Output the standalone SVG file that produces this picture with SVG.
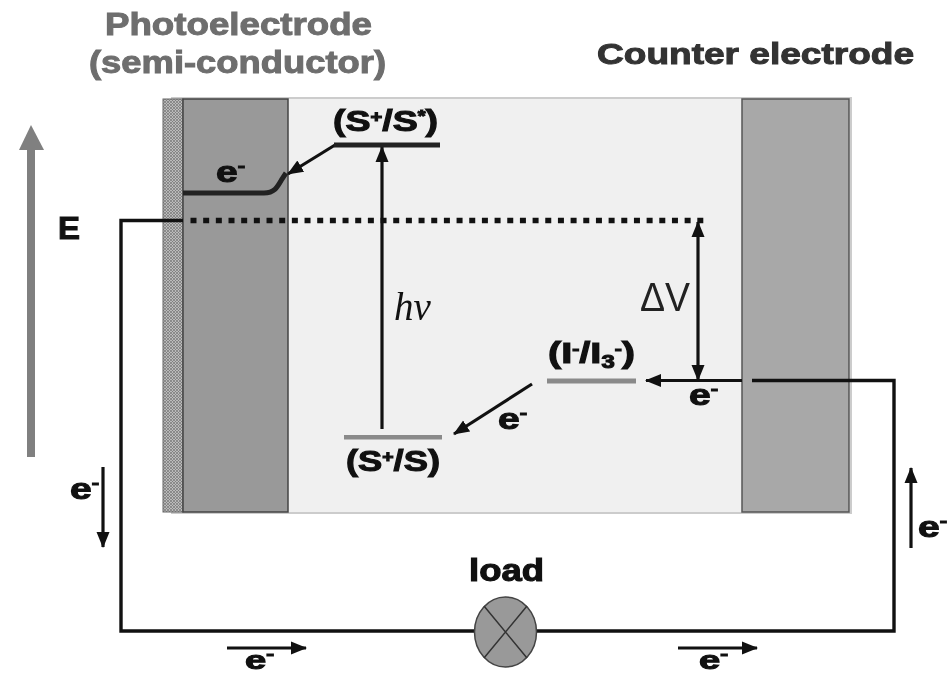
<svg xmlns="http://www.w3.org/2000/svg" width="950" height="674" viewBox="0 0 950 674">
<style>
text{font-family:"Liberation Sans",Arial,sans-serif;font-weight:700;fill:#111}
.t{stroke:#111;stroke-width:1.100}
.g{fill:#6e6e6e;stroke:#6e6e6e;stroke-width:1}
.c{fill:#333;stroke:#333;stroke-width:1}
.w{fill:none;stroke:#111;stroke-width:3.400}
.a{fill:none;stroke:#111;stroke-width:3.200}
svg>g{filter:url(#b)}
</style>
<defs>
<filter id="b" x="-5%" y="-5%" width="110%" height="110%" filterUnits="objectBoundingBox" color-interpolation-filters="sRGB"><feGaussianBlur stdDeviation="0.5"/></filter>
<pattern id="h" width="3" height="3" patternUnits="userSpaceOnUse"><rect width="3" height="3" fill="#bbb"/><path d="M0 0L3 3M3 0L0 3" stroke="#777" stroke-width=".7"/></pattern>
<marker id="m" markerUnits="userSpaceOnUse" markerWidth="16" markerHeight="16" refX="15" refY="8" orient="auto-start-reverse"><path d="M0 1.500L16 8L0 14.500z" fill="#111"/></marker>
</defs>
<g id="electrolyte"><rect x="172" y="98" width="679" height="415" fill="#f0f0f0" stroke="#ccc" stroke-width="2"/></g>
<g id="photoelectrode">
<rect x="163" y="99" width="20" height="413" fill="url(#h)" stroke="#666"/>
<rect x="183" y="99" width="105" height="413" fill="#999" stroke="#444" stroke-width="1.500"/>
</g>
<g id="counter-electrode"><rect x="742" y="99" width="107" height="413" fill="#a8a8a8" stroke="#555" stroke-width="1.500"/></g>
<g id="energy-axis">
<path d="M31 457V150" stroke="#808080" stroke-width="8" fill="none"/>
<path d="M19 150L31 125L44 150z" fill="#808080"/>
<text x="58" y="239" font-size="32" textLength="22" lengthAdjust="spacingAndGlyphs" class="t">E</text>
</g>
<g id="connectors">
<path class="w" d="M183 220.500H121V631H894V380.500H752"/>
<path d="M190.500 220.500H706" fill="none" stroke="#111" stroke-width="5.500" stroke-dasharray="6 6.670"/>
<path d="M183 193H264C274 193 277 188 282 179L286 173" fill="none" stroke="#222" stroke-width="5"/>
<path class="a" d="M335 145L288 174" marker-end="url(#m)"/>
<path class="a" d="M382 429V147" marker-end="url(#m)"/>
<path class="a" d="M698 380V222" marker-start="url(#m)" marker-end="url(#m)"/>
<path class="a" d="M742 380.500H646" marker-end="url(#m)"/>
<path class="a" d="M532 384L454 434" marker-end="url(#m)"/>
<path class="a" d="M103 467V547" marker-end="url(#m)"/>
<path class="a" d="M911 548V468" marker-end="url(#m)"/>
<path class="a" d="M227 648H306" marker-end="url(#m)"/>
<path class="a" d="M678 648H757" marker-end="url(#m)"/>
</g>
<g id="level-s-excited"><path d="M334 145H440" stroke="#222" stroke-width="5"/>
<text x="333" y="131" font-size="30" textLength="105" lengthAdjust="spacingAndGlyphs" class="t">(S<tspan dy="-9" font-size="16">+</tspan><tspan dy="9">/S</tspan><tspan dy="-9" font-size="16">*</tspan><tspan dy="9">)</tspan></text></g>
<g id="level-s-ground"><path d="M344 437H442" stroke="#8a8a8a" stroke-width="5"/>
<text x="346" y="471" font-size="30" textLength="94" lengthAdjust="spacingAndGlyphs" class="t">(S<tspan dy="-9" font-size="16">+</tspan><tspan dy="9">/S)</tspan></text></g>
<g id="level-redox"><path d="M547 381H636" stroke="#8a8a8a" stroke-width="5"/>
<text x="548" y="363" font-size="30" textLength="87" lengthAdjust="spacingAndGlyphs" class="t">(I<tspan dy="-9" font-size="16">-</tspan><tspan dy="9">/I</tspan><tspan dy="5" font-size="18">3</tspan><tspan dy="-14" font-size="16">-</tspan><tspan dy="9">)</tspan></text></g>
<g id="load">
<ellipse cx="505.500" cy="632" rx="31" ry="35" fill="#999" stroke="#444" stroke-width="1.500"/>
<path d="M484 606L527 658M527 606L484 658" stroke="#333" stroke-width="1.500"/>
<text x="469" y="581" font-size="31" textLength="75" lengthAdjust="spacingAndGlyphs" class="t">load</text>
</g>
<g id="labels">
<text x="105" y="35" font-size="31" textLength="267" lengthAdjust="spacingAndGlyphs" class="g">Photoelectrode</text>
<text x="89" y="73" font-size="31" textLength="297" lengthAdjust="spacingAndGlyphs" class="g">(semi-conductor)</text>
<text x="597" y="64" font-size="30" textLength="317" lengthAdjust="spacingAndGlyphs" class="c">Counter electrode</text>
<text x="394" y="320" font-size="39" style="font-family:'Liberation Serif',serif;font-style:italic;font-weight:400">hν</text>
<text x="640" y="311" font-size="40" style="font-weight:400;fill:#222" textLength="50" lengthAdjust="spacingAndGlyphs">ΔV</text>
<text x="216" y="182" font-size="30" textLength="29" lengthAdjust="spacingAndGlyphs" class="t">e<tspan dy="-11" font-size="17">-</tspan></text>
<text x="689" y="405" font-size="30" textLength="29" lengthAdjust="spacingAndGlyphs" class="t">e<tspan dy="-11" font-size="17">-</tspan></text>
<text x="498" y="429" font-size="30" textLength="29" lengthAdjust="spacingAndGlyphs" class="t">e<tspan dy="-11" font-size="17">-</tspan></text>
<text x="70" y="499" font-size="30" textLength="29" lengthAdjust="spacingAndGlyphs" class="t">e<tspan dy="-11" font-size="17">-</tspan></text>
<text x="918" y="537" font-size="30" textLength="29" lengthAdjust="spacingAndGlyphs" class="t">e<tspan dy="-11" font-size="17">-</tspan></text>
<text x="245" y="668.500" font-size="26" textLength="29" lengthAdjust="spacingAndGlyphs" class="t">e<tspan dy="-10" font-size="16">-</tspan></text>
<text x="699" y="668.500" font-size="26" textLength="29" lengthAdjust="spacingAndGlyphs" class="t">e<tspan dy="-10" font-size="16">-</tspan></text>
</g>
</svg>
